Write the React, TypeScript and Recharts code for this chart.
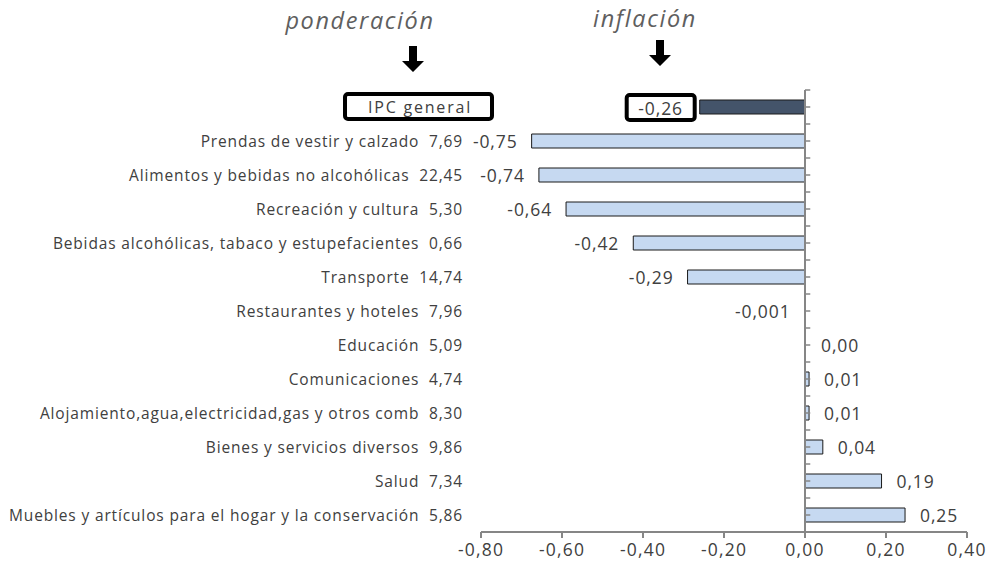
import { BarChart, Bar, XAxis, YAxis, Cell, LabelList, ReferenceLine } from "recharts";

const categorias = [
  "IPC general",
  "Prendas de vestir y calzado",
  "Alimentos y bebidas no alcohólicas",
  "Recreación y cultura",
  "Bebidas alcohólicas, tabaco y estupefacientes",
  "Transporte",
  "Restaurantes y hoteles",
  "Educación",
  "Comunicaciones",
  "Alojamiento,agua,electricidad,gas y otros comb",
  "Bienes y servicios diversos",
  "Salud",
  "Muebles y artículos para el hogar y la conservación",
];
const ponderaciones = ["", "7,69", "22,45", "5,30", "0,66", "14,74", "7,96", "5,09", "4,74", "8,30", "9,86", "7,34", "5,86"];
// largo de las barras tal como aparecen dibujadas
const barras = [-0.26, -0.675, -0.657, -0.59, -0.424, -0.29, -0.001, 0, 0.01, 0.01, 0.044, 0.189, 0.247];
// etiquetas impresas junto a cada barra
const etiquetas = ["-0,26", "-0,75", "-0,74", "-0,64", "-0,42", "-0,29", "-0,001", "0,00", "0,01", "0,01", "0,04", "0,19", "0,25"];
const ticksX = [-0.8, -0.6, -0.4, -0.2, 0, 0.2, 0.4];

const data = categorias.map((name, i) => ({ name, valor: barras[i] }));

const FONT = "'Open Sans', Lato, sans-serif";
const GRIS = "#868686";
const TEXTO = "#404040";

const marcasEje = [
  ...categorias.flatMap((c) => [
    { c, pos: "start" },
    { c, pos: "middle" },
  ]),
  { c: categorias[categorias.length - 1], pos: "end" },
];

function CategoryTick(props: any) {
  const { x, y, payload } = props;
  const i = categorias.indexOf(payload.value);
  if (i === 0) {
    return (
      <g>
        <rect x={x - 118} y={y - 13} width={147} height={25} rx={3} fill="#fff" stroke="#000" strokeWidth={4} />
        <text
          x={x - 43}
          y={y}
          textAnchor="middle"
          dominantBaseline="central"
          fontFamily={FONT}
          fontSize={16}
          letterSpacing={1.8}
          fill={TEXTO}
        >
          IPC general
        </text>
      </g>
    );
  }
  return (
    <text
      x={x}
      y={y}
      textAnchor="end"
      dominantBaseline="central"
      fontFamily={FONT}
      fontSize={15.5}
      letterSpacing={0.85}
      fill={TEXTO}
      style={{ whiteSpace: "pre" }}
    >
      {`${payload.value}  ${ponderaciones[i]}`}
    </text>
  );
}

function ValueLabel(props: any) {
  const vb = props.viewBox ?? props;
  const { x, y, width, height } = vb;
  const index = categorias.indexOf(props.value);
  const v = barras[index];
  const left = Math.min(x, x + width);
  const right = Math.max(x, x + width);
  const cy = y + height / 2;
  if (index === 0) {
    return (
      <g>
        <rect x={left - 73} y={cy - 12} width={68} height={25} rx={3} fill="#fff" stroke="#000" strokeWidth={4} />
        <text
          x={left - 39}
          y={cy + 1}
          textAnchor="middle"
          dominantBaseline="central"
          fontFamily={FONT}
          fontSize={17.5}
          letterSpacing={0.9}
          fill={TEXTO}
        >
          {etiquetas[index]}
        </text>
      </g>
    );
  }
  const neg = v < 0;
  return (
    <text
      x={neg ? left - 14 : right + 15}
      y={cy}
      textAnchor={neg ? "end" : "start"}
      dominantBaseline="central"
      fontFamily={FONT}
      fontSize={17.5}
      letterSpacing={0.9}
      fill={TEXTO}
    >
      {etiquetas[index]}
    </text>
  );
}

function Flecha({ cx, top, tip }: { cx: number; top: number; tip: number }) {
  const neck = tip - 11;
  return (
    <polygon
      points={`${cx - 4},${top} ${cx + 4},${top} ${cx + 4},${neck} ${cx + 11},${neck} ${cx},${tip} ${cx - 11},${neck} ${cx - 4},${neck}`}
      fill="#000"
    />
  );
}

export default function App() {
  return (
    <div style={{ position: "absolute", left: 0, top: 0, width: 992, height: 565, background: "#fff" }}>
      <BarChart
        width={992}
        height={565}
        data={data}
        layout="vertical"
        margin={{ top: 90, right: 25, bottom: 0, left: 0 }}
        barSize={14}
      >
        <XAxis
          type="number"
          domain={[-0.8, 0.4]}
          ticks={ticksX}
          allowDataOverflow
          height={33}
          axisLine={{ stroke: GRIS, strokeWidth: 2 }}
          tickLine={{ stroke: GRIS, strokeWidth: 2 }}
          tickSize={6}
          tickMargin={6}
          tick={{ fontFamily: FONT, fontSize: 17.5, fill: TEXTO, letterSpacing: 1.2 }}
          tickFormatter={(v: number) => v.toFixed(2).replace(".", ",")}
        />
        <YAxis
          type="category"
          dataKey="name"
          width={481}
          axisLine={false}
          tickLine={false}
          tickSize={0}
          tickMargin={18}
          interval={0}
          tick={(p: any) => <CategoryTick {...p} />}
        />
        <Bar
          dataKey="valor"
          stroke="#1a1a1a"
          strokeWidth={1}
          minPointSize={(v: number) => (v === 0 ? 1 : 0)}
          isAnimationActive={false}
        >
          {data.map((d, i) => (
            <Cell
              key={d.name}
              fill={i === 0 ? "#44546A" : d.valor === 0 ? "none" : "#C6D9F1"}
              stroke={d.valor === 0 ? "none" : "#1a1a1a"}
            />
          ))}
          <LabelList dataKey="name" content={(p: any) => <ValueLabel {...p} />} />
        </Bar>
        <ReferenceLine x={0} stroke={GRIS} strokeWidth={2} />
        {marcasEje.map((m, i) => (
          <ReferenceLine
            key={i}
            segment={[
              { x: 0, y: m.c },
              { x: 0.013, y: m.c },
            ]}
            position={m.pos as any}
            stroke={GRIS}
            strokeWidth={1.5}
            ifOverflow="visible"
          />
        ))}
      </BarChart>
      <svg width={992} height={90} style={{ position: "absolute", left: 0, top: 0, pointerEvents: "none" }}>
        <text
          x={360}
          y={29}
          textAnchor="middle"
          fontFamily={FONT}
          fontStyle="italic"
          fontSize={23.5}
          letterSpacing={1.6}
          fill="#5f5f5f"
        >
          ponderación
        </text>
        <text
          x={645}
          y={27}
          textAnchor="middle"
          fontFamily={FONT}
          fontStyle="italic"
          fontSize={23.5}
          letterSpacing={1.6}
          fill="#5f5f5f"
        >
          inflación
        </text>
        <Flecha cx={413} top={46} tip={72} />
        <Flecha cx={660} top={40} tip={66} />
      </svg>
    </div>
  );
}
